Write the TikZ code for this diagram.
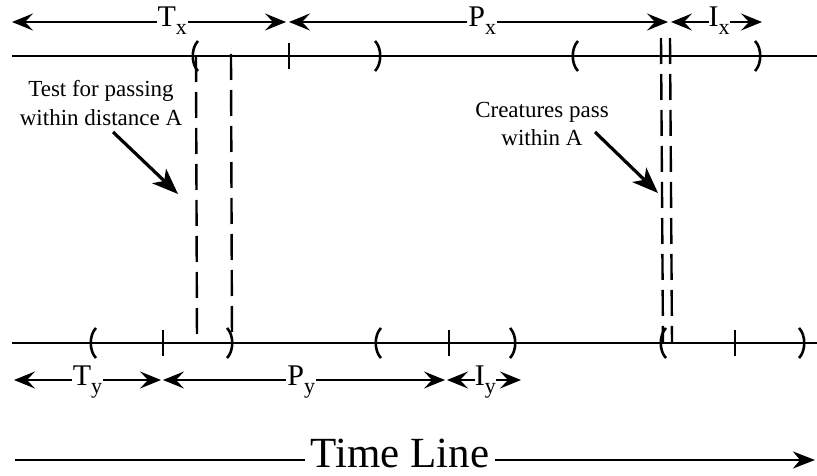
\documentclass[tikz,border=0pt]{standalone}
\usepackage{fontspec}
\setmainfont{Liberation Serif}
\usetikzlibrary{arrows.meta}
\begin{document}
\begin{tikzpicture}[x=1pt,y=-1pt,
  baseln/.style={line width=2pt},
  dimarr/.style={line width=2pt,
    {Stealth[length=21pt,width=17pt,inset=8pt]}-{Stealth[length=21pt,width=17pt,inset=8pt]}},
  dimlbl/.style={fill=white, inner sep=1pt, anchor=base, font=\fontsize{30}{30}\selectfont},
  dsh/.style={line width=2.4pt, dash pattern=on 26pt off 10pt},
  callout/.style={line width=3.2pt, -{Stealth[length=26pt,width=20pt,inset=7pt]}},
  note/.style={align=center, font=\fontsize{23}{28.5}\selectfont, inner sep=0pt},
  tickmark/.pic={\draw[line width=2.2pt] (0,-13) -- (0,13);},
  lpar/.pic={\draw[line width=2.6pt] (3,-15) .. controls (-4,-8) and (-4,8) .. (3,15);},
  rpar/.pic={\draw[line width=2.6pt] (-3,-15) .. controls (4,-8) and (4,8) .. (-3,15);},
]
\useasboundingbox (0,0) rectangle (817,476);
\newcommand{\sbx}[1]{\raisebox{-8pt}{\fontsize{22}{22}\selectfont #1}}

% time lines for the two creatures
\coordinate (xL) at (12,56);  \coordinate (xR) at (817,56);
\coordinate (yL) at (12,343); \coordinate (yR) at (817,343);
\draw[baseln] (xL) -- (xR);
\draw[baseln] (yL) -- (yR);

% marks on top line
\pic at (195,56) {lpar};
\pic at (289,56) {tickmark};
\pic at (378,56) {rpar};
\pic at (575,56) {lpar};
\pic at (758,56) {rpar};

% marks on bottom line
\pic at (93,343) {lpar};
\pic at (163,343) {tickmark};
\pic at (230,343) {rpar};
\pic at (378,343) {lpar};
\pic at (449,343) {tickmark};
\pic at (513,343) {rpar};
\pic at (663,343) {lpar};
\pic at (735,343) {tickmark};
\pic at (802,343) {rpar};

% dashed test lines
\coordinate (d1t) at (196,56);  \coordinate (d1b) at (197,343);
\coordinate (d2t) at (231,54);  \coordinate (d2b) at (232,343);
\coordinate (d3t) at (661,38);  \coordinate (d3b) at (663,343);
\coordinate (d4t) at (670,38);  \coordinate (d4b) at (672,343);
\draw[dsh] (d1t) -- (d1b);
\draw[dsh] (d2t) -- (d2b);
\draw[dsh] (d3t) -- (d3b);
\draw[dsh] (d4t) -- (d4b);

% dimension arrows, top
\coordinate (txa) at (12,22);  \coordinate (txb) at (286,22);
\coordinate (pxa) at (289,22); \coordinate (pxb) at (668,22);
\coordinate (ixa) at (671,22); \coordinate (ixb) at (762,22);
\draw[dimarr] (txa) -- node[dimlbl, pos=0.585, yshift=-5pt] (tx) {T\sbx{x}} (txb);
\draw[dimarr] (pxa) -- node[dimlbl, pos=0.51, yshift=-5pt] (px) {P\sbx{x}} (pxb);
\draw[dimarr] (ixa) -- node[dimlbl, pos=0.53, yshift=-5pt, inner sep=0pt] (ix) {I\sbx{x}} (ixb);

% dimension arrows, bottom
\coordinate (tya) at (14,380);  \coordinate (tyb) at (161,380);
\coordinate (pya) at (163,380); \coordinate (pyb) at (445,380);
\coordinate (iya) at (447,380); \coordinate (iyb) at (521,380);
\draw[dimarr] (tya) -- node[dimlbl, pos=0.5, yshift=-5pt] (ty) {T\sbx{y}} (tyb);
\draw[dimarr] (pya) -- node[dimlbl, pos=0.49, yshift=-5pt] (py) {P\sbx{y}} (pyb);
\draw[dimarr] (iya) -- node[dimlbl, pos=0.52, yshift=-5pt, inner sep=0pt] (iy) {I\sbx{y}} (iyb);

% notes
\node[note] (n1) at (101,103) {Test for passing\\within distance A};
\node[note] (n2) at (542,124) {Creatures pass\\within A};
\coordinate (c1s) at (113,132); \coordinate (c1e) at (178,194);
\coordinate (c2s) at (595,132); \coordinate (c2e) at (658,193);
\draw[callout] (c1s) -- (c1e);
\draw[callout] (c2s) -- (c2e);

% time line
\node[font=\fontsize{43}{43}\selectfont, inner sep=5pt, anchor=base] (tl) at (400,467) {Time Line};
\coordinate (tlL) at (15,460); \coordinate (tlR) at (815,460);
\draw[baseln] (tlL) -- (tl.west |- tlL);
\draw[baseln, -{Stealth[length=22pt,width=17pt,inset=7pt]}] (tl.east |- tlR) -- (tlR);
\end{tikzpicture}
\end{document}
